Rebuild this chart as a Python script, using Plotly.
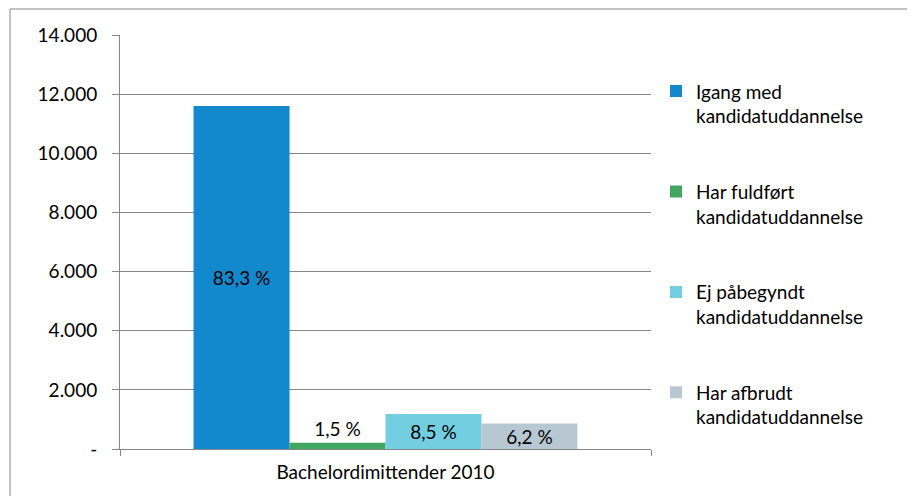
import plotly.graph_objects as go

# data
category = ["Bachelordimittender 2010"]
series_names = [
    "Igang med<br>kandidatuddannelse",
    "Har fuldført<br>kandidatuddannelse",
    "Ej påbegyndt<br>kandidatuddannelse",
    "Har afbrudt<br>kandidatuddannelse",
]
series_values = [11600, 210, 1185, 865]
series_labels = ["83,3 %", "1,5 %", "8,5 %", "6,2 %"]
series_colors = ["#1289CD", "#40A660", "#73CEE2", "#B7C8D2"]
label_pos = ["inside", "outside", "inside", "inside"]

y_ticks = [0, 2000, 4000, 6000, 8000, 10000, 12000, 14000]
y_ticktext = ["-", "2.000", "4.000", "6.000", "8.000", "10.000", "12.000", "14.000"]

FONT = "Lato"
GRID = "#868686"

# page body adds an 8px offset, so margins are reduced by that amount
L, T, PW, PH = 112, 27, 531, 414

fig = go.Figure()

for i, name in enumerate(series_names):
    fig.add_trace(go.Bar(
        x=category,
        y=[series_values[i]],
        name=name,
        legendgroup=f"g{i}",
        marker=dict(color=series_colors[i], line=dict(width=0)),
        text=[series_labels[i]],
        textposition=label_pos[i],
        insidetextanchor="middle",
        constraintext="none",
        textfont=dict(family=FONT, size=19, color="#000000"),
        cliponaxis=False,
    ))

fig.update_layout(
    width=915,
    height=496,
    margin=dict(l=L, r=915 - L - PW, t=T, b=496 - T - PH),
    paper_bgcolor="white",
    plot_bgcolor="white",
    font=dict(family=FONT, size=19, color="#000000"),
    barmode="group",
    bargap=0.277,
    bargroupgap=0,
    showlegend=True,
    legend=dict(
        x=(648 - L) / PW, xanchor="left",
        y=0.91, yanchor="top",
        traceorder="grouped",
        tracegroupgap=48,
        valign="top",
        itemwidth=30,
        font=dict(family=FONT, size=19, color="#000000"),
        bgcolor="rgba(0,0,0,0)",
    ),
    xaxis=dict(
        type="category",
        showline=True, linecolor=GRID, linewidth=1,
        ticks="outside", tickson="boundaries", ticklen=6, tickcolor=GRID,
        ticklabelstandoff=6,
        showgrid=False,
        tickfont=dict(family=FONT, size=19),
    ),
    yaxis=dict(
        range=[0, 14000],
        tickvals=y_ticks,
        ticktext=y_ticktext,
        showline=True, linecolor=GRID, linewidth=1,
        ticks="outside", ticklen=7, tickcolor=GRID,
        ticklabelstandoff=11,
        showgrid=True, gridcolor=GRID, gridwidth=1,
        zeroline=False,
        tickfont=dict(family=FONT, size=19),
    ),
)

# outer chart border (cropped on the right and bottom)
fig.add_shape(
    type="rect", xref="paper", yref="paper",
    x0=(2 - L) / PW, x1=(930 - L) / PW,
    y0=(T + PH - 510) / PH, y1=(T + PH - 1) / PH,
    line=dict(color=GRID, width=1), fillcolor="rgba(0,0,0,0)",
    layer="below",
)

fig.write_html("out.html")
